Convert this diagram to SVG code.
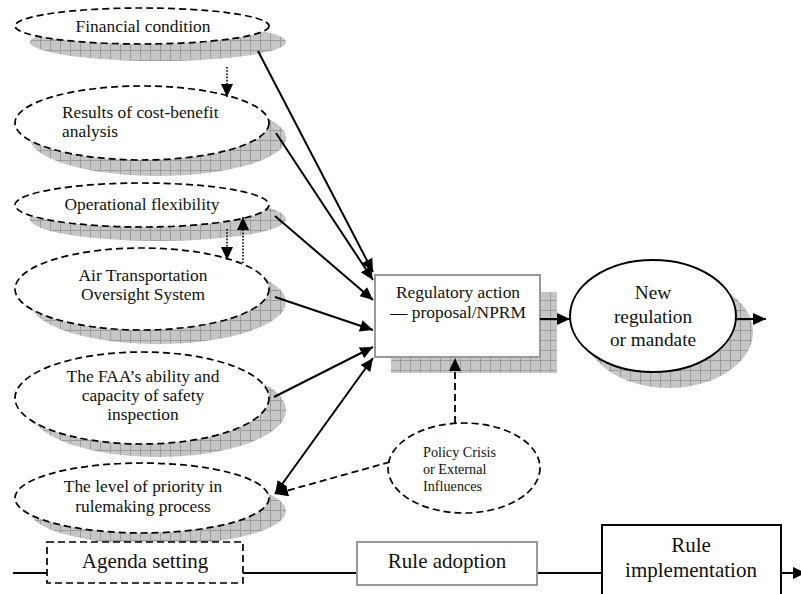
<svg xmlns="http://www.w3.org/2000/svg" width="801" height="594" viewBox="0 0 801 594">
<style>
  text { font-family: "Liberation Serif", "Times New Roman", serif; fill: #111; }
  .t17 { font-size: 17.4px; }
  .t19 { font-size: 19.3px; }
  .t21 { font-size: 21px; }
  .t14 { font-size: 14.2px; }
  .mid { text-anchor: middle; }
  .shadow { fill: url(#grid); }
  .dash { fill: #fff; stroke: #000; stroke-width: 1.7; stroke-dasharray: 7 4; }
  .solid { stroke: #000; stroke-width: 2; fill: none; }
  .dot { stroke: #000; stroke-width: 1.6; stroke-dasharray: 1.6 1.6; fill: none; }
  .dline { stroke: #000; stroke-width: 1.8; stroke-dasharray: 7 4; fill: none; }
</style>
<defs>
  <pattern id="grid" patternUnits="userSpaceOnUse" width="10" height="10">
    <rect width="10" height="10" fill="#c6c6c6"/>
    <path d="M0 0.5H10M0.5 0V10" stroke="#9c9c9c" stroke-width="1"/>
  </pattern>
  <marker id="ah" viewBox="0 0 13 12" refX="13" refY="6" markerWidth="13" markerHeight="12" markerUnits="userSpaceOnUse" orient="auto-start-reverse">
    <path d="M0 0L13 6L0 12Z" fill="#000"/>
  </marker>
</defs>

<g id="node-financial">
  <ellipse class="shadow" cx="158" cy="42" rx="128" ry="19"/>
  <ellipse class="dash" cx="142" cy="26" rx="127" ry="18"/>
  <text class="t17 mid" x="143" y="32">Financial condition</text>
</g>
<g id="node-costbenefit">
  <ellipse class="shadow" cx="158" cy="138" rx="128" ry="38"/>
  <ellipse class="dash" cx="142" cy="123" rx="127" ry="37"/>
  <text class="t17" x="62" y="118">Results of cost-benefit</text>
  <text class="t17" x="62" y="137">analysis</text>
</g>
<g id="node-flexibility">
  <ellipse class="shadow" cx="158" cy="219" rx="128" ry="22"/>
  <ellipse class="dash" cx="142" cy="205" rx="127" ry="22"/>
  <text class="t17 mid" x="142" y="210">Operational flexibility</text>
</g>
<g id="node-atos">
  <ellipse class="shadow" cx="158" cy="302" rx="128" ry="42"/>
  <ellipse class="dash" cx="142" cy="289" rx="127" ry="41"/>
  <text class="t17 mid" x="143" y="281">Air Transportation</text>
  <text class="t17 mid" x="143" y="300">Oversight System</text>
</g>
<g id="node-faa">
  <ellipse class="shadow" cx="158" cy="410" rx="128" ry="47"/>
  <ellipse class="dash" cx="142" cy="398" rx="127" ry="46"/>
  <text class="t17 mid" x="143" y="382">The FAA’s ability and</text>
  <text class="t17 mid" x="143" y="401">capacity of safety</text>
  <text class="t17 mid" x="143" y="420">inspection</text>
</g>
<g id="node-priority">
  <ellipse class="shadow" cx="158" cy="511" rx="128" ry="34"/>
  <ellipse class="dash" cx="142" cy="498" rx="127" ry="35"/>
  <text class="t17 mid" x="143" y="492">The level of priority in</text>
  <text class="t17 mid" x="143" y="512">rulemaking process</text>
</g>

<g id="node-regulatory">
  <rect class="shadow" x="391" y="292" width="166" height="81"/>
  <rect x="375" y="275" width="165" height="82" fill="#fff" stroke="#999" stroke-width="2"/>
  <text class="t17 mid" x="458" y="298">Regulatory action</text>
  <text class="t17 mid" x="458" y="318">— proposal/NPRM</text>
</g>
<g id="node-newreg">
  <ellipse class="shadow" cx="669" cy="332" rx="84" ry="56"/>
  <ellipse cx="653" cy="316" rx="83" ry="56" fill="#fff" stroke="#000" stroke-width="2"/>
  <text class="t19 mid" x="653" y="299">New</text>
  <text class="t19 mid" x="653" y="323">regulation</text>
  <text class="t19 mid" x="653" y="346">or mandate</text>
</g>
<g id="node-policy">
  <ellipse cx="464" cy="468" rx="76" ry="45" fill="#fff" class="dash"/>
  <text class="t14" x="423" y="457">Policy Crisis</text>
  <text class="t14" x="423" y="474">or External</text>
  <text class="t14" x="423" y="491">Influences</text>
</g>

<g id="connectors">
  <line class="solid" x1="13" y1="573" x2="806" y2="573" marker-end="url(#ah)"/>
  <line class="dot" x1="227" y1="67" x2="227" y2="97" marker-end="url(#ah)"/>
  <line class="dot" x1="227" y1="229" x2="227" y2="260" marker-end="url(#ah)"/>
  <line class="dot" x1="243" y1="263" x2="243" y2="217" marker-end="url(#ah)"/>
  <line class="solid" x1="258" y1="51" x2="373" y2="272" marker-end="url(#ah)"/>
  <line class="solid" x1="276" y1="133" x2="373" y2="280" marker-end="url(#ah)"/>
  <line class="solid" x1="275" y1="216" x2="373" y2="300" marker-end="url(#ah)"/>
  <line class="solid" x1="275" y1="297" x2="373" y2="330" marker-end="url(#ah)"/>
  <line class="solid" x1="274" y1="397" x2="373" y2="347" marker-end="url(#ah)"/>
  <line class="solid" x1="275" y1="494" x2="373" y2="358" marker-start="url(#ah)" marker-end="url(#ah)"/>
  <line class="dline" x1="390" y1="462" x2="275" y2="494" marker-end="url(#ah)"/>
  <line class="dline" x1="455" y1="423" x2="455" y2="358" marker-end="url(#ah)"/>
  <line class="solid" x1="540" y1="319" x2="570" y2="319" marker-end="url(#ah)"/>
  <line class="solid" x1="736" y1="319" x2="766" y2="319" marker-end="url(#ah)"/>
</g>

<g id="node-agenda">
  <rect x="47" y="542" width="196" height="41" fill="#fff" stroke="#000" stroke-width="1.7" stroke-dasharray="7 4"/>
  <text class="t21 mid" x="145" y="568">Agenda setting</text>
</g>
<g id="node-adoption">
  <rect x="357" y="542" width="180" height="43" fill="#fff" stroke="#999" stroke-width="2"/>
  <text class="t21 mid" x="447" y="568">Rule adoption</text>
</g>
<g id="node-implementation">
  <rect x="602" y="525" width="179" height="75" fill="#fff" stroke="#000" stroke-width="2"/>
  <text class="t21 mid" x="691" y="552">Rule</text>
  <text class="t21 mid" x="691" y="577">implementation</text>
</g>
</svg>
